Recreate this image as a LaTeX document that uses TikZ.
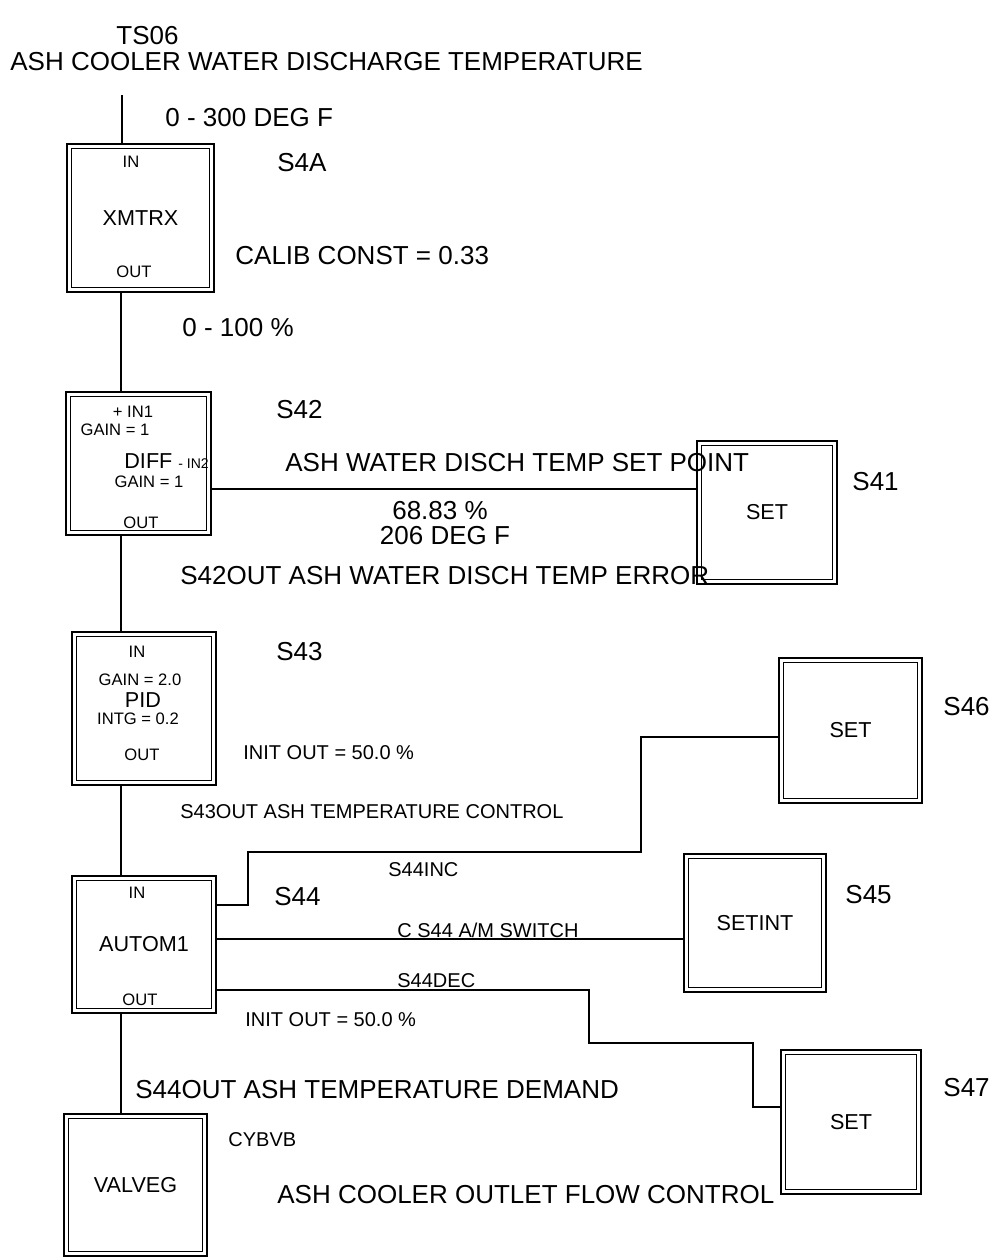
\documentclass[tikz,border=0pt]{standalone}
\usepackage{fontspec}
\setmainfont{Liberation Sans}
\tikzset{
  block/.style={
    draw,
    double,
    double distance=1.6pt,
    line width=0.8pt,
    outer sep=1.6pt,
    inner sep=0pt,
    font=\fontsize{10.8pt}{12pt}\selectfont
  },
  tag/.style={anchor=west, inner sep=0pt, font=\fontsize{13pt}{15pt}\selectfont},
  note/.style={anchor=west, inner sep=0pt, font=\fontsize{10pt}{12pt}\selectfont},
  port/.style={inner sep=0pt, font=\fontsize{8.3pt}{9pt}\selectfont},
  wire/.style={line width=0.8pt}
}

\begin{document}
\begin{tikzpicture}[x=0.5pt, y=-0.5pt]
  \useasboundingbox (0,0) rectangle (991,1258);

  % function blocks
  \node[block, minimum width=71.3pt, minimum height=71.8pt] (xmtrx) at (140.5,218) {XMTRX};
  \node[block, minimum width=70.3pt, minimum height=69.3pt] (diff) at (138.5,463.5) {};
  \node[block, minimum width=69.8pt, minimum height=74.3pt] (pid) at (144,708.5) {};
  \node[block, minimum width=69.8pt, minimum height=66.3pt] (autom) at (144,944.5) {AUTOM1};
  \node[block, minimum width=69.3pt, minimum height=68.8pt] (valveg) at (135.5,1185) {VALVEG};
  \node[block, minimum width=67.8pt, minimum height=69.3pt] (s41) at (767,512.5) {SET};
  \node[block, minimum width=69.3pt, minimum height=70.3pt] (s46) at (850.5,730.5) {SET};
  \node[block, minimum width=68.8pt, minimum height=66.8pt] (s45) at (755,923) {SETINT};
  \node[block, minimum width=67.8pt, minimum height=69.8pt] (s47) at (851,1122) {SET};

  % texts inside the blocks
  \node[port] (xin) at (131,162) {IN};
  \node[port] (xout) at (134,272) {OUT};
  \node[port] (din1) at (133,412) {+ IN1};
  \node[port] (dgain1) at (115,430) {GAIN = 1};
  \node[anchor=west, inner sep=0pt, font=\fontsize{10.8pt}{12pt}\selectfont] (dname) at (124,461)
    {DIFF {\fontsize{7pt}{8pt}\selectfont - IN2}};
  \node[port] (dgain2) at (149,482) {GAIN = 1};
  \node[port] (dout) at (141,523) {OUT};
  \node[port] (pin) at (137,652) {IN};
  \node[port] (pgain) at (140,680) {GAIN = 2.0};
  \node[font=\fontsize{10.8pt}{12pt}\selectfont, inner sep=0pt] (pname) at (143,700) {PID};
  \node[port] (pintg) at (138,719) {INTG = 0.2};
  \node[port] (pout) at (142,755) {OUT};
  \node[port] (ain) at (137,893) {IN};
  \node[port] (aout) at (140,1000) {OUT};

  % texts
  \node[tag] (ts) at (116,36) {TS06};
  \node[tag] (title) at (10,62) {ASH COOLER WATER DISCHARGE TEMPERATURE};
  \node[tag] (range1) at (165,118) {0 - 300 DEG F};
  \node[tag] (n4a) at (277,163) {S4A};
  \node[tag] (calib) at (235,256) {CALIB CONST = 0.33};
  \node[tag] (range2) at (182,328) {0 - 100 \%};
  \node[tag] (n42) at (276,410) {S42};
  \node[tag] (setpt) at (285,463) {ASH WATER DISCH TEMP SET POINT};
  \node[tag, anchor=center] (pct) at (440,511) {68.83 \%};
  \node[tag, anchor=center] (degf) at (445,536) {206 DEG F};
  \node[tag] (err) at (180,576) {S42OUT ASH WATER DISCH TEMP ERROR};
  \node[tag] (n41) at (852,482) {S41};
  \node[tag] (n43) at (276,652) {S43};
  \node[note] (init1) at (243,753) {INIT OUT = 50.0 \%};
  \node[note] (ctrl) at (180,812) {S43OUT ASH TEMPERATURE CONTROL};
  \node[tag] (n46) at (943,707) {S46};
  \node[note] (inc) at (388,870) {S44INC};
  \node[tag] (n44) at (274,897) {S44};
  \node[tag] (n45) at (845,895) {S45};
  \node[note] (sw) at (397,930) {C S44 A/M SWITCH};
  \node[note] (dec) at (397,981) {S44DEC};
  \node[note] (init2) at (245,1020) {INIT OUT = 50.0 \%};
  \node[tag] (demand) at (135,1090) {S44OUT ASH TEMPERATURE DEMAND};
  \node[tag] (n47) at (943,1088) {S47};
  \node[note] (cy) at (228,1140) {CYBVB};
  \node[tag] (flow) at (277,1195) {ASH COOLER OUTLET FLOW CONTROL};

  % connections
  \coordinate (src) at (122,95);
  \coordinate (spine) at (121,0);
  \coordinate (spt) at (450,489);
  \coordinate (incS) at (0,905);
  \coordinate (incA) at (248,852);
  \coordinate (incB) at (641,737);
  \coordinate (swS) at (0,939);
  \coordinate (decS) at (0,990);
  \coordinate (decA) at (589,1043);
  \coordinate (decB) at (753,1107);

  \draw[wire] (src) -- (xmtrx.north -| src);
  \draw[wire] (xmtrx.south -| spine) -- (diff.north -| spine);
  \draw[wire] (diff.south -| spine) -- (pid.north -| spine);
  \draw[wire] (pid.south -| spine) -- (autom.north -| spine);
  \draw[wire] (autom.south -| spine) -- (valveg.north -| spine);
  \draw[wire] (diff.east |- spt) -- (s41.west |- spt);
  \draw[wire] (autom.east |- incS) -| (incA) -| (incB) -- (s46.west |- incB);
  \draw[wire] (autom.east |- swS) -- (s45.west |- swS);
  \draw[wire] (autom.east |- decS) -| (decA) -| (decB) -- (s47.west |- decB);
\end{tikzpicture}
\end{document}
